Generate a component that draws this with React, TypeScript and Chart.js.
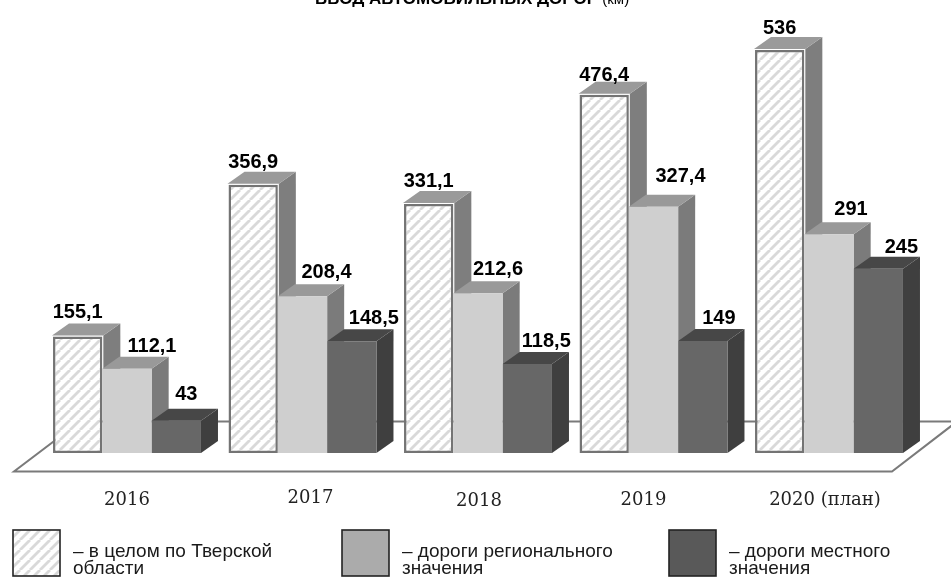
import React, { useEffect, useRef } from "react";
import { Chart, registerables } from "chart.js";

Chart.register(...registerables);

const categories = ["2016", "2017", "2018", "2019", "2020 (план)"];
const totalValues = [155.1, 356.9, 331.1, 476.4, 536];
const regionalValues = [112.1, 208.4, 212.6, 327.4, 291];
const localValues = [43, 148.5, 118.5, 149, 245];
const seriesNames = ["в целом по Тверской области", "дороги регионального значения", "дороги местного значения"];
const legendLines = [
  ["– в целом по Тверской", "области"],
  ["– дороги регионального", "значения"],
  ["– дороги местного", "значения"],
];
const valueLabels = [
  ["155,1", "356,9", "331,1", "476,4", "536"],
  ["112,1", "208,4", "212,6", "327,4", "291"],
  ["43", "148,5", "118,5", "149", "245"],
];
// Hand-placed label offsets from each bar's top centre, as in the source artwork
const labelNudgeX = [
  [0, 0, 0, 0, 0],
  [25, 24, 20, 27, 22],
  [10, 22, 19, 16, 23],
];
const labelRise = [
  [18, 17, 17, 14, 16],
  [17, 18, 18, 25, 19],
  [21, 17, 17, 17, 16],
];
const categoryNudgeX = [0, 8, 1, -10, -4];
const categoryNudgeY = [0, -2, 1, 0, 0];

const DEPTH_X = 17;
const DEPTH_Y = 12;

const faces = [
  { side: "#7e7e7e", top: "#9a9a9a" },
  { side: "#7b7b7b", top: "#999999" },
  { side: "#3f3f3f", top: "#474747" },
];
const legendSwatches = ["", "#ababab", "#595959"];

function hatch(ctx: CanvasRenderingContext2D): CanvasPattern {
  const s = 10;
  const c = document.createElement("canvas");
  c.width = s;
  c.height = s;
  const g = c.getContext("2d")!;
  g.fillStyle = "#ffffff";
  g.fillRect(0, 0, s, s);
  g.strokeStyle = "#d9d9d9";
  g.lineWidth = 2.8;
  for (const o of [-s, 0, s]) {
    g.beginPath();
    g.moveTo(o, s);
    g.lineTo(o + s, 0);
    g.stroke();
  }
  return ctx.createPattern(c, "repeat")!;
}

function poly(ctx: CanvasRenderingContext2D, pts: number[][], fill: string) {
  ctx.beginPath();
  pts.forEach(([x, y], i) => (i ? ctx.lineTo(x, y) : ctx.moveTo(x, y)));
  ctx.closePath();
  ctx.fillStyle = fill;
  ctx.fill();
}

const artwork = {
  id: "artwork",
  beforeDatasetsDraw(chart: any) {
    const ctx = chart.ctx;
    ctx.save();
    ctx.strokeStyle = "#7a7a7a";
    ctx.lineWidth = 2;
    ctx.beginPath();
    ctx.moveTo(14, 471.5);
    ctx.lineTo(892, 471.5);
    ctx.lineTo(957, 421.5);
    ctx.lineTo(80, 421.5);
    ctx.closePath();
    ctx.stroke();

    // depth faces of all series, left to right, beneath every front face
    [0, 1, 2].forEach((ds) => {
      const f = faces[ds];
      const grow = ds === 0 ? 1 : 0;
      chart.getDatasetMeta(ds).data.forEach((bar: any) => {
        const l = bar.x - bar.width / 2 - grow;
        const r = bar.x + bar.width / 2 + grow;
        const t = bar.y - grow;
        const b = bar.base;
        poly(ctx, [[r, t], [r + DEPTH_X, t - DEPTH_Y], [r + DEPTH_X, b - DEPTH_Y], [r, b]], f.side);
        poly(ctx, [[l, t], [l + DEPTH_X, t - DEPTH_Y], [r + DEPTH_X, t - DEPTH_Y], [r, t]], f.top);
      });
    });
    ctx.restore();
  },
  afterDatasetsDraw(chart: any) {
    const ctx = chart.ctx;
    ctx.save();
    ctx.textAlign = "center";
    ctx.textBaseline = "alphabetic";

    // value labels
    ctx.fillStyle = "#000000";
    ctx.font = 'bold 20px "Liberation Sans"';
    valueLabels.forEach((row, ds) => {
      const meta = chart.getDatasetMeta(ds);
      row.forEach((text, i) => {
        const bar = meta.data[i];
        ctx.fillText(text, bar.x + labelNudgeX[ds][i], bar.y - labelRise[ds][i]);
      });
    });

    // category labels
    const xs = chart.scales.x;
    ctx.fillStyle = "#222222";
    ctx.font = '18px "DejaVu Serif"';
    categories.forEach((text, i) => {
      ctx.fillText(text, xs.getPixelForTick(i) + categoryNudgeX[i], 505 + categoryNudgeY[i]);
    });

    // clipped title
    ctx.fillStyle = "#000000";
    ctx.textAlign = "left";
    ctx.font = 'bold 17px "Liberation Sans"';
    const head = "ВВОД АВТОМОБИЛЬНЫХ ДОРОГ";
    ctx.fillText(head, 315, 4);
    const w = ctx.measureText(head).width;
    ctx.font = '15px "Liberation Sans"';
    ctx.fillText("(км)", 315 + w + 6, 4);

    // legend
    const left = [13, 342, 669];
    legendLines.forEach((lines, i) => {
      const x = left[i];
      ctx.fillStyle = i === 0 ? chart.data.datasets[0].backgroundColor : legendSwatches[i];
      ctx.fillRect(x, 530, 47, 46);
      ctx.strokeStyle = "#222222";
      ctx.lineWidth = 1.6;
      ctx.strokeRect(x, 530, 47, 46);
      ctx.fillStyle = "#1a1a1a";
      ctx.font = '19px "Liberation Sans"';
      lines.forEach((line, k) => ctx.fillText(line, x + 60, 557 + k * 17));
    });
    ctx.restore();
  },
};

export default function App() {
  const ref = useRef<HTMLCanvasElement>(null);
  useEffect(() => {
    const canvas = ref.current!;
    const ctx = canvas.getContext("2d")!;
    const chart = new Chart(ctx, {
      type: "bar",
      data: {
        labels: categories,
        datasets: [
          { label: seriesNames[0], data: totalValues, backgroundColor: hatch(ctx) as any, borderColor: "#747474", borderWidth: 2.5, borderSkipped: false, inflateAmount: 0 },
          { label: seriesNames[1], data: regionalValues, backgroundColor: "#cfcfcf", borderWidth: 0 },
          { label: seriesNames[2], data: localValues, backgroundColor: "#676767", borderWidth: 0 },
        ],
      },
      options: {
        animation: false,
        responsive: false,
        events: [],
        layout: { padding: { left: 39.25, right: 34.25, top: 50, bottom: 129 } },
        datasets: { bar: { categoryPercentage: 0.843, barPercentage: 1 } },
        plugins: { legend: { display: false }, tooltip: { enabled: false }, title: { display: false } },
        scales: {
          x: { display: false },
          y: { display: false, min: 0, max: 536 },
        },
      },
      plugins: [artwork],
    });
    return () => chart.destroy();
  }, []);
  return (
    <div style={{ position: "absolute", left: 0, top: 0, width: 951, height: 582, background: "#ffffff" }}>
      <canvas ref={ref} width={951} height={582} style={{ display: "block" }} />
    </div>
  );
}
